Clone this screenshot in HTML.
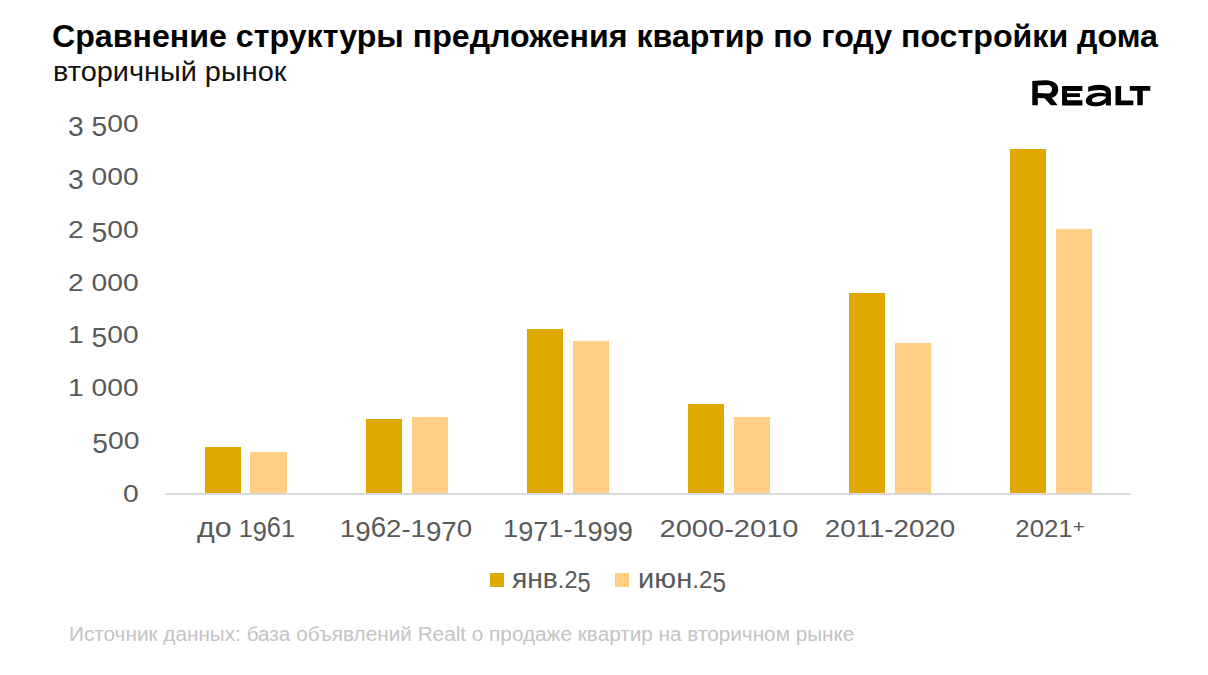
<!DOCTYPE html>
<html><head><meta charset="utf-8">
<style>
html,body{margin:0;padding:0;background:#fff;}
body{width:1208px;height:675px;position:relative;overflow:hidden;font-family:"Liberation Sans",sans-serif;}
.t{position:absolute;white-space:nowrap;line-height:1;transform-origin:0 0;}
.bar{position:absolute;}
.d{background:#E0A900;box-shadow:inset 0 0 0 1px #DDA600;}
.l{background:#FFCF86;box-shadow:inset 0 0 0 1px #FFCC80;}
.dd{display:inline-block;transform-origin:50% 0.1305em;transform:scaleY(1.23);}
.da{display:inline-block;transform-origin:50% 0.8465em;transform:scaleY(1.28);}
.cy{font-size:1.2em;line-height:0;}
.plus{display:inline-block;font-size:0.8em;line-height:0;transform:translateY(-4px);}
</style></head>
<body>
<div class="t" style="left:52px;top:20px;font-size:32px;font-weight:bold;color:#000;transform:scaleX(1.005)">Сравнение структуры предложения квартир по году постройки дома</div>
<div class="t" style="left:53px;top:56.7px;font-size:28.5px;color:#111;transform:scaleX(1.014)">вторичный рынок</div>
<svg style="position:absolute;left:0;top:0" width="1208" height="675" viewBox="0 0 1208 675">
<g fill="#000">
<path fill-rule="evenodd" d="M1032.3,81 L1044.6,80.3 C1053.2,80 1058.2,83.6 1058.2,89.4 C1058.2,93.8 1055.6,96.8 1051.7,97.7 L1057.7,105.3 L1050.9,105.3 L1044.6,98.2 L1037.8,98 L1037.8,105.3 L1032.3,105.3 Z M1037.8,85.6 L1047.4,85.1 C1050.4,85.1 1052,86.9 1052,89.3 C1052,91.8 1050.4,93.6 1047.8,93.6 L1037.8,93.1 Z"/>
<path d="M1062.1,86 H1082.4 V90.9 H1067.1 V93.3 H1079.9 V97.1 H1067.1 V100.2 H1082.4 V105.4 H1062.1 Z"/>
<path d="M1088.2,87.1 C1091.8,85.6 1095.6,84.8 1099.3,84.8 C1106.6,84.8 1110.9,87.6 1110.9,92.2 L1110.9,105.5 L1106,105.5 L1106,93.4 C1106,91 1103.6,89.9 1099.8,89.9 C1095.6,89.9 1091.8,90.6 1088.2,91.8 Z"/>
<path fill-rule="evenodd" d="M1106.2,93.4 C1103.6,92.9 1101.2,92.6 1098.9,92.7 C1090.8,93 1085.8,96.6 1085.8,100.9 C1085.8,104.4 1089.6,106.3 1096.6,106.3 C1100.6,106.3 1104,104.9 1106.1,102.7 Z M1092,100.2 C1092,98 1095.6,96.4 1100.2,96.3 C1103.4,96.2 1105.6,96.6 1106,97.3 C1104.6,100.2 1100.4,102.3 1095.6,102.3 C1093.4,102.3 1092,101.5 1092,100.2 Z"/>
<path d="M1115.5,86 H1121.1 V100.4 H1133.3 V105.3 H1115.5 Z"/>
<path d="M1129.8,86 H1150.3 V90.7 H1142.8 V105.3 H1137.3 V90.7 H1129.8 Z"/>
</g></svg>
<div class="t" style="right:1069px;top:483.0px;font-size:23px;color:#595959;transform-origin:100% 0;transform:scaleX(1.225)">0</div>
<div class="t" style="right:1069px;top:430.1px;font-size:23px;color:#595959;transform-origin:100% 0;transform:scaleX(1.225)"><span class="dd">5</span>00</div>
<div class="t" style="right:1069px;top:377.3px;font-size:23px;color:#595959;transform-origin:100% 0;transform:scaleX(1.225)">1<span class="sp"> </span>000</div>
<div class="t" style="right:1069px;top:324.4px;font-size:23px;color:#595959;transform-origin:100% 0;transform:scaleX(1.225)">1<span class="sp"> </span><span class="dd">5</span>00</div>
<div class="t" style="right:1069px;top:271.6px;font-size:23px;color:#595959;transform-origin:100% 0;transform:scaleX(1.225)">2<span class="sp"> </span>000</div>
<div class="t" style="right:1069px;top:218.7px;font-size:23px;color:#595959;transform-origin:100% 0;transform:scaleX(1.225)">2<span class="sp"> </span><span class="dd">5</span>00</div>
<div class="t" style="right:1069px;top:165.8px;font-size:23px;color:#595959;transform-origin:100% 0;transform:scaleX(1.225)"><span class="dd">3</span><span class="sp"> </span>000</div>
<div class="t" style="right:1069px;top:113.0px;font-size:23px;color:#595959;transform-origin:100% 0;transform:scaleX(1.225)"><span class="dd">3</span><span class="sp"> </span><span class="dd">5</span>00</div>
<div class="bar d" style="left:205px;top:447px;width:36px;height:46px"></div>
<div class="bar l" style="left:250px;top:452px;width:37px;height:41px"></div>
<div class="bar d" style="left:366px;top:419px;width:36px;height:74px"></div>
<div class="bar l" style="left:412px;top:417px;width:36px;height:76px"></div>
<div class="bar d" style="left:527px;top:329px;width:36px;height:164px"></div>
<div class="bar l" style="left:573px;top:341px;width:36px;height:152px"></div>
<div class="bar d" style="left:688px;top:404px;width:36px;height:89px"></div>
<div class="bar l" style="left:734px;top:417px;width:36px;height:76px"></div>
<div class="bar d" style="left:849px;top:293px;width:36px;height:200px"></div>
<div class="bar l" style="left:895px;top:343px;width:36px;height:150px"></div>
<div class="bar d" style="left:1010px;top:149px;width:36px;height:344px"></div>
<div class="bar l" style="left:1056px;top:229px;width:36px;height:264px"></div>
<div class="bar" style="left:165px;top:493px;width:966px;height:2px;background:#D9D9D9"></div>
<div class="t" style="left:95.5px;top:518px;width:300px;text-align:center;font-size:23px;color:#595959;transform-origin:50% 0;transform:scaleX(1.1)"><span class="cy">д</span><span class="cy">о</span><span class="sp"> </span>1<span class="dd">9</span><span class="da">6</span>1</div>
<div class="t" style="left:256.0px;top:518px;width:300px;text-align:center;font-size:23px;color:#595959;transform-origin:50% 0;transform:scaleX(1.202)">1<span class="dd">9</span><span class="da">6</span>2-1<span class="dd">9</span><span class="dd">7</span>0</div>
<div class="t" style="left:417.8px;top:518px;width:300px;text-align:center;font-size:23px;color:#595959;transform-origin:50% 0;transform:scaleX(1.18)">1<span class="dd">9</span><span class="dd">7</span>1-1<span class="dd">9</span><span class="dd">9</span><span class="dd">9</span></div>
<div class="t" style="left:578.8px;top:518px;width:300px;text-align:center;font-size:23px;color:#595959;transform-origin:50% 0;transform:scaleX(1.263)">2000-2010</div>
<div class="t" style="left:739.5px;top:518px;width:300px;text-align:center;font-size:23px;color:#595959;transform-origin:50% 0;transform:scaleX(1.205)">2011-2020</div>
<div class="t" style="left:900.4px;top:518px;width:300px;text-align:center;font-size:23px;color:#595959;transform-origin:50% 0;transform:scaleX(1.12)">2021<span class="plus">+</span></div>
<div class="bar d" style="left:490px;top:573px;width:14px;height:14px"></div>
<div class="bar l" style="left:615px;top:573px;width:14px;height:14px"></div>
<div class="t" style="left:512px;top:569px;font-size:23px;color:#595959;transform:scaleX(1.022)"><span class="cy">я</span><span class="cy">н</span><span class="cy">в</span>.2<span class="dd">5</span></div>
<div class="t" style="left:638px;top:569px;font-size:23px;color:#595959;transform:scaleX(1.056)"><span class="cy">и</span><span class="cy">ю</span><span class="cy">н</span>.2<span class="dd">5</span></div>
<div class="t" style="left:68.5px;top:624px;font-size:20px;color:#C4C4C4;transform:scaleX(1.037)">Источник данных: база объявлений Realt о продаже квартир на вторичном рынке</div>
</body></html>
